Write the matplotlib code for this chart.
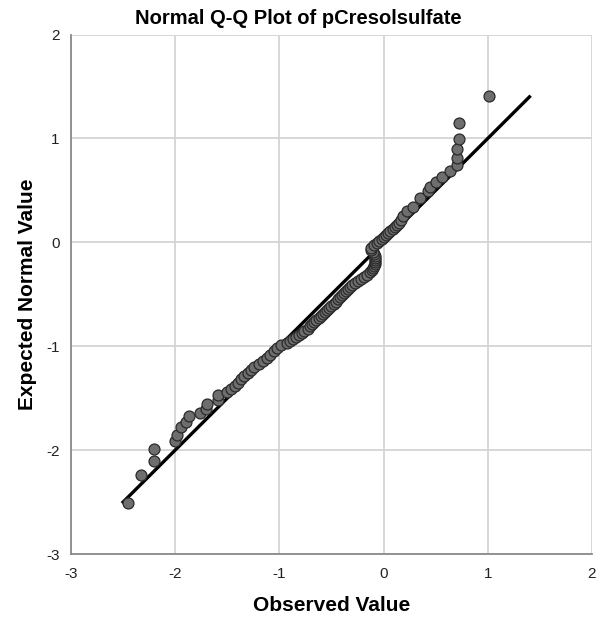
import matplotlib.pyplot as plt

observed = [-2.45, -2.33, -2.20, -2.20, -2.00, -1.98, -1.94, -1.90, -1.87, -1.76,
            -1.70, -1.69, -1.59, -1.59,
            -1.50, -1.46, -1.43, -1.40, -1.37, -1.34, -1.30, -1.27, -1.24, -1.20,
            -1.16, -1.12, -1.09, -1.05, -1.02, -0.98,
            -0.93, -0.90, -0.87, -0.84, -0.81, -0.78, -0.76, -0.73, -0.71, -0.69,
            -0.67, -0.65, -0.62, -0.60, -0.58, -0.56, -0.54, -0.52, -0.50, -0.48,
            -0.46, -0.44, -0.42, -0.40, -0.38, -0.36, -0.34, -0.32, -0.30, -0.27,
            -0.25, -0.22, -0.19, -0.16, -0.13, -0.11, -0.10, -0.09, -0.08, -0.08,
            -0.08, -0.08, -0.08, -0.09, -0.10, -0.12,
            -0.12, -0.09, -0.06, -0.04, -0.02, 0.00, 0.02, 0.04, 0.06, 0.09,
            0.11, 0.13, 0.15, 0.17,
            0.19, 0.22, 0.285, 0.35, 0.43, 0.45, 0.50, 0.56, 0.64, 0.70,
            0.70, 0.70, 0.72, 0.72, 1.01]
expected = [-2.51, -2.24, -2.10, -1.99, -1.91, -1.85, -1.78, -1.73, -1.67, -1.64,
            -1.60, -1.56, -1.52, -1.47,
            -1.44, -1.41, -1.38, -1.35, -1.32, -1.29, -1.26, -1.23, -1.20, -1.17,
            -1.14, -1.11, -1.08, -1.05, -1.02, -0.99,
            -0.97, -0.95, -0.93, -0.91, -0.89, -0.87, -0.85, -0.83, -0.81, -0.79,
            -0.77, -0.75, -0.73, -0.71, -0.69, -0.67, -0.65, -0.63, -0.61, -0.59,
            -0.57, -0.55, -0.53, -0.51, -0.49, -0.47, -0.45, -0.43, -0.41, -0.39,
            -0.37, -0.35, -0.33, -0.31, -0.29, -0.27, -0.25, -0.23, -0.21, -0.19,
            -0.17, -0.15, -0.13, -0.11, -0.09, -0.07,
            -0.05, -0.03, -0.01, 0.01, 0.03, 0.05, 0.07, 0.09, 0.11, 0.13,
            0.15, 0.17, 0.19, 0.21,
            0.25, 0.30, 0.34, 0.43, 0.49, 0.535, 0.58, 0.63, 0.69, 0.74,
            0.81, 0.895, 0.99, 1.145, 1.41]

line_ends = [-2.5, 1.4]
ticks = [-3, -2, -1, 0, 1, 2]

plt.rcParams['font.family'] = ['Liberation Sans', 'DejaVu Sans']
plt.rcParams['axes.unicode_minus'] = False

fig = plt.figure(figsize=(5.97, 6.22), dpi=100)
ax = fig.add_axes([0.1189, 0.1093, 0.8727, 0.8352])

ax.plot(line_ends, line_ends, color='black', lw=2.4, zorder=3)
ax.scatter(observed, expected, s=62, facecolor='#6e6e6e', edgecolor='#2a2a2a',
           linewidth=0.9, zorder=4, clip_on=False)

ax.set_xlim(-3, 2)
ax.set_ylim(-3, 2)
ax.set_xticks(ticks)
ax.set_yticks(ticks)
ax.grid(True, color='#d4d4d4', lw=1.3)
ax.set_axisbelow(True)
for s in ['top', 'right']:
    ax.spines[s].set_visible(False)
for s in ['left', 'bottom']:
    ax.spines[s].set_color('#8a8a8a')
    ax.spines[s].set_linewidth(1.3)
ax.tick_params(length=0, labelsize=11, colors='#222222')
ax.tick_params(axis='x', pad=9)
ax.tick_params(axis='y', pad=8)

fig.suptitle('Normal Q-Q Plot of pCresolsulfate', x=0.5, y=0.985, va='top',
             fontsize=14.5, fontweight='bold')
ax.set_xlabel('Observed Value', fontsize=15, fontweight='bold', labelpad=11)
ax.set_ylabel('Expected Normal Value', fontsize=15, fontweight='bold', labelpad=7)

fig.savefig('out.png', dpi=100)
